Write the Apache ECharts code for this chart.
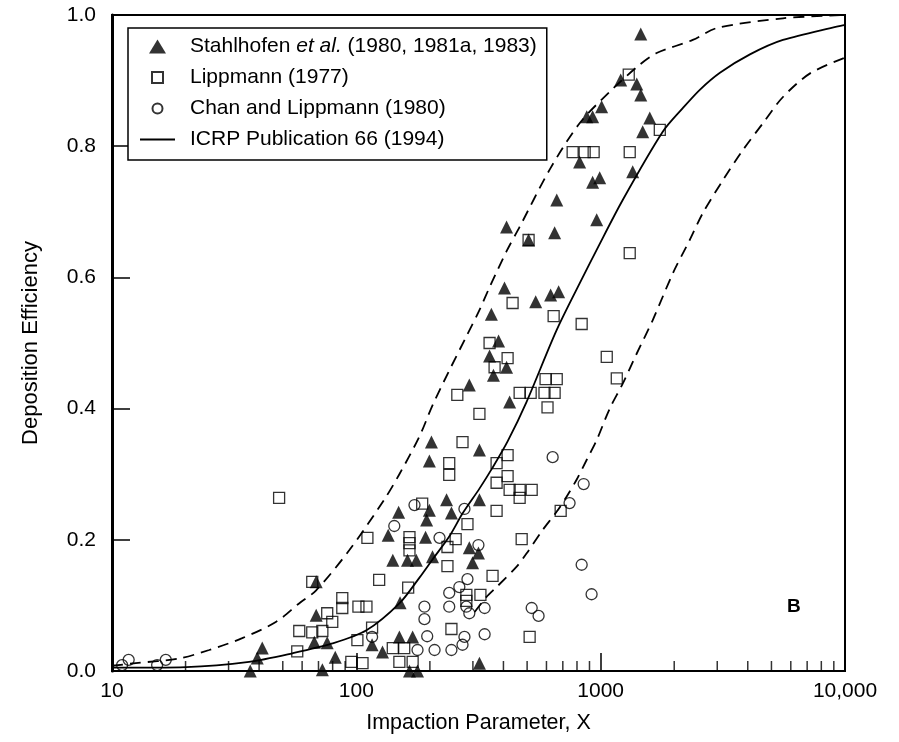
<!DOCTYPE html>
<html><head><meta charset="utf-8">
<script src="https://cdn.jsdelivr.net/npm/echarts@6/dist/echarts.min.js"></script>
<style>html,body{margin:0;padding:0;background:#fff}#c{width:899px;height:742px}</style>
</head><body><div id="c"></div><script>
// ---- data ----
const seriesNames = ['Stahlhofen et al. (1980, 1981a, 1983)', 'Lippmann (1977)', 'Chan and Lippmann (1980)', 'ICRP Publication 66 (1994)'];
const xTickValues = [10, 100, 1000, 10000];
const xTickLabels = ['10', '100', '1000', '10,000'];
const xMinorTicks = [20,30,40,50,60,70,80,90,200,300,400,500,600,700,800,900,2000,3000,4000,5000,6000,7000,8000,9000];

const stahlhofen = [[1459,0.971],[1208,0.901],[1405,0.895],[1459,0.878],[1009,0.860],[927,0.845],[877,0.845],[1588,0.843],[1486,0.822],[820,0.776],[1352,0.761],[927,0.745],[991,0.752],[661,0.718],[963,0.688],[412,0.677],[648,0.668],[507,0.657],[404,0.584],[542,0.563],[624,0.573],[673,0.578],[357,0.544],[382,0.503],[351,0.480],[412,0.463],[364,0.451],[290,0.436],[424,0.410],[203,0.349],[199,0.320],[319,0.337],[234,0.261],[245,0.241],[319,0.261],[199,0.245],[194,0.230],[192,0.204],[149,0.242],[135,0.207],[141,0.169],[162,0.169],[176,0.169],[205,0.174],[290,0.188],[316,0.180],[299,0.165],[151,0.104],[68.5,0.136],[68.5,0.085],[67.3,0.044],[76.0,0.043],[82.0,0.021],[72.6,0.002],[41.2,0.035],[39.3,0.020],[36.8,0.0],[116,0.040],[128,0.029],[150,0.052],[170,0.052],[165,0.0],[178,0.0],[319,0.012]];

const lippmann = [[1303,0.909],[1746,0.825],[768,0.791],[860,0.791],[936,0.791],[1315,0.791],[507,0.657],[436,0.561],[642,0.541],[836,0.529],[1315,0.637],[351,0.500],[416,0.477],[368,0.463],[1059,0.479],[1164,0.446],[259,0.421],[466,0.424],[517,0.424],[595,0.445],[661,0.445],[589,0.424],[648,0.424],[606,0.402],[319,0.392],[272,0.349],[240,0.317],[240,0.299],[416,0.329],[375,0.317],[416,0.297],[375,0.287],[424,0.276],[466,0.276],[522,0.276],[466,0.264],[375,0.244],[686,0.244],[186,0.255],[285,0.224],[236,0.189],[255,0.201],[475,0.201],[236,0.160],[361,0.145],[282,0.116],[322,0.116],[282,0.107],[512,0.052],[245,0.064],[48.3,0.264],[111,0.203],[124,0.139],[165,0.204],[165,0.195],[165,0.184],[163,0.127],[66.0,0.136],[87.6,0.111],[87.6,0.096],[102,0.098],[110,0.098],[76.0,0.088],[79.7,0.075],[58.4,0.061],[66.0,0.059],[72.6,0.061],[116,0.066],[101,0.047],[141,0.035],[157,0.035],[57.3,0.030],[95.4,0.014],[106,0.012],[150,0.014],[170,0.014]];

const chanLippmann = [[11.0,0.009],[11.7,0.017],[15.3,0.009],[16.6,0.017],[173,0.253],[143,0.221],[219,0.203],[316,0.192],[277,0.247],[636,0.326],[852,0.285],[746,0.256],[836,0.162],[918,0.117],[522,0.096],[557,0.084],[285,0.140],[264,0.128],[240,0.119],[240,0.098],[282,0.098],[290,0.088],[335,0.096],[335,0.056],[277,0.052],[272,0.040],[245,0.032],[209,0.032],[178,0.032],[190,0.098],[190,0.079],[195,0.053],[116,0.052]];

const icrpCurve = [[10,0.005],[20.1,0.006],[36.4,0.014],[54.7,0.027],[79.8,0.042],[110,0.062],[150,0.103],[181,0.142],[205,0.170],[240,0.205],[272,0.240],[319,0.278],[361,0.310],[416,0.350],[497,0.410],[661,0.520],[844,0.600],[963,0.642],[1231,0.718],[1795,0.822],[2168,0.858],[2545,0.886],[3077,0.912],[4083,0.940],[5572,0.962],[10000,0.985]];

const upperBound = [[10,0.008],[12.5,0.012],[18.8,0.019],[25.0,0.032],[34.1,0.050],[47.0,0.075],[58.3,0.103],[68.5,0.123],[93.5,0.184],[130,0.261],[150,0.300],[181,0.357],[205,0.405],[240,0.458],[282,0.510],[319,0.550],[351,0.585],[412,0.640],[466,0.677],[620,0.765],[820,0.835],[1089,0.883],[1442,0.924],[1695,0.942],[2382,0.962],[2985,0.980],[5572,0.995],[10000,1.0]];

const lowerBound = [[305,0.090],[341,0.113],[375,0.128],[453,0.159],[497,0.179],[579,0.215],[661,0.243],[726,0.266],[798,0.292],[877,0.322],[963,0.352],[1089,0.400],[1231,0.438],[1405,0.484],[1634,0.535],[1973,0.606],[2315,0.657],[2619,0.698],[3162,0.748],[3819,0.794],[4613,0.835],[5572,0.875],[7194,0.911],[10000,0.935]];

// ---- chart ----
const FONT = '"Liberation Sans", Arial, Helvetica, sans-serif';
const chart = echarts.init(document.getElementById('c'), null, {renderer: 'canvas'});
const openMarker = {color: 'rgba(255,255,255,0)', borderColor: '#000', borderWidth: 1.3};

const legendIcons = [
  'path://M8.5,0 L17,14 L0,14 Z',
  'path://M0,0 L0.01,0 M1.5,1.5 L12.5,1.5 L12.5,12.5 L1.5,12.5 Z M14,14 L13.99,14',
  'path://M0,0 L0.01,0 M12,7 A5,5 0 1 1 2,7 A5,5 0 1 1 12,7 Z M14,14 L13.99,14',
  'path://M0,0 L35,0 L35,2 L0,2 Z'
];

chart.setOption({
  animation: false,
  backgroundColor: '#fff',
  textStyle: {fontFamily: FONT, color: '#000'},
  grid: {left: 112, top: 15, width: 733, height: 656, show: true, borderColor: '#000', borderWidth: 2, backgroundColor: 'transparent'},
  legend: {
    orient: 'vertical', left: 128, top: 28,
    padding: [8, 10, 10, 12], itemGap: 10, itemWidth: 35, itemHeight: 14,
    borderColor: '#000', borderWidth: 1.5, backgroundColor: '#fff',
    selectedMode: false, symbolKeepAspect: true,
    data: seriesNames.map((n, i) => ({name: n, icon: legendIcons[i]})),
    formatter: function (name) {
      if (name === seriesNames[0]) return '{n|Stahlhofen }{i|et al.}{n| (1980, 1981a, 1983)}';
      return '{n|' + name + '}';
    },
    textStyle: {fontFamily: FONT, fontSize: 21, color: '#000', padding: [0, 0, 0, 10],
      rich: {n: {fontFamily: FONT, fontSize: 21, color: '#000'}, i: {fontFamily: FONT, fontSize: 21, fontStyle: 'italic', color: '#000'}}}
  },
  xAxis: {
    type: 'log', logBase: 10, min: 10, max: 10000,
    name: 'Impaction Parameter, X', nameLocation: 'middle', nameGap: 41,
    nameTextStyle: {fontFamily: FONT, fontSize: 21.5, color: '#000'},
    axisLine: {lineStyle: {color: '#000', width: 2}},
    axisTick: {inside: true, length: 18, lineStyle: {color: '#000', width: 1.5}},
    axisLabel: {fontFamily: FONT, fontSize: 21, color: '#000', margin: 10,
      formatter: function (v) { const i = xTickValues.indexOf(Math.round(v)); return i >= 0 ? xTickLabels[i] : ''; }},
    splitLine: {show: false}
  },
  yAxis: {
    type: 'value', min: 0, max: 1, interval: 0.2,
    name: 'Deposition Efficiency', nameLocation: 'middle', nameGap: 70,
    nameTextStyle: {fontFamily: FONT, fontSize: 22, color: '#000'},
    axisLine: {lineStyle: {color: '#000', width: 3}},
    axisTick: {inside: true, length: 18, lineStyle: {color: '#000', width: 1.5}},
    axisLabel: {fontFamily: FONT, fontSize: 21, color: '#000', margin: 16, formatter: function (v) { return v.toFixed(1); }},
    splitLine: {show: false}
  },
  graphic: [{type: 'text', left: 787, top: 597, style: {text: 'B', font: 'bold 19px ' + FONT, fill: '#000'}}],
  series: [
    {name: 'minorTicks', type: 'scatter', silent: true, clip: false, z: 1,
      data: xMinorTicks.map(v => [v, 0]), symbol: 'rect', symbolSize: [1.5, 10], symbolOffset: [0, -5],
      itemStyle: {color: '#000'}},
    {name: 'upper', type: 'line', data: upperBound, showSymbol: false, symbol: 'none', smooth: 0.3, silent: true, z: 2,
      lineStyle: {color: '#000', width: 1.8, type: [11, 7]}},
    {name: 'lower', type: 'line', data: lowerBound, showSymbol: false, symbol: 'none', smooth: 0.3, silent: true, z: 2,
      lineStyle: {color: '#000', width: 1.8, type: [11, 7]}},
    {name: seriesNames[3], type: 'line', data: icrpCurve, showSymbol: false, symbol: 'none', smooth: 0.3, z: 2,
      itemStyle: {color: '#000'}, lineStyle: {color: '#000', width: 1.8}},
    {name: seriesNames[2], type: 'scatter', data: chanLippmann, symbol: 'circle', symbolSize: 11, clip: false, z: 3,
      itemStyle: openMarker},
    {name: seriesNames[1], type: 'scatter', data: lippmann, symbol: 'rect', symbolSize: 11, clip: false, z: 3,
      itemStyle: openMarker},
    {name: seriesNames[0], type: 'scatter', data: stahlhofen, symbol: 'triangle', symbolSize: 13, clip: false, z: 4,
      itemStyle: {color: '#000'}}
  ]
});
</script></body></html>
